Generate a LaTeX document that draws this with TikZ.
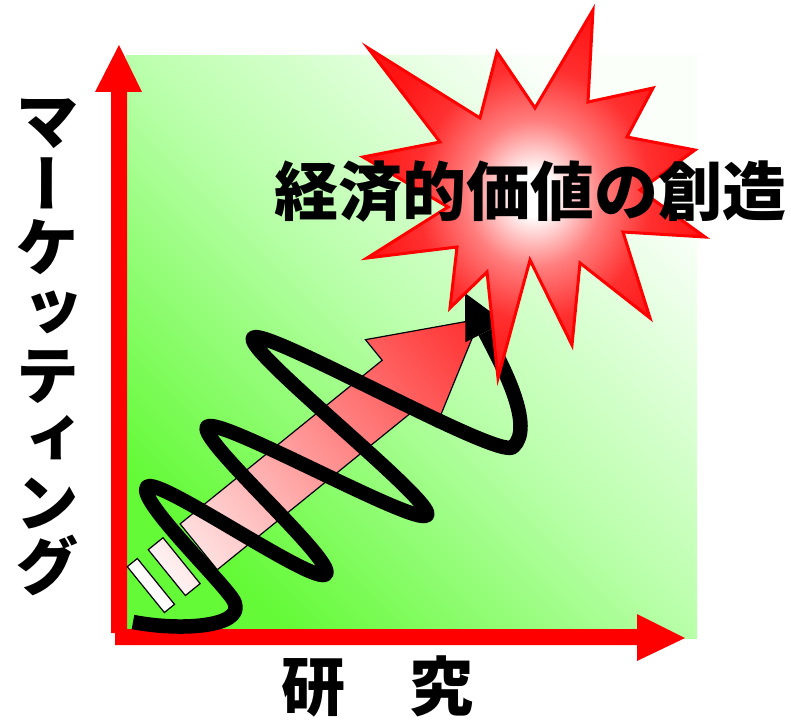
\documentclass[tikz,border=0pt]{standalone}
\usepackage{fontspec}
\usetikzlibrary{arrows.meta}
\newfontfamily\jpfont{Noto Sans CJK JP}
\newfontfamily\jpvfont{Noto Sans CJK JP}[RawFeature=+vert]

\definecolor{axisred}{RGB}{255,0,0}
\definecolor{fieldgreen}{RGB}{100,250,55}
\definecolor{fieldmid}{RGB}{185,255,170}
\definecolor{fieldlight}{RGB}{250,255,250}
\definecolor{shaftred}{RGB}{255,45,45}
\definecolor{burstred}{RGB}{255,20,20}
\colorlet{burstpink}{burstred!55!white}
\colorlet{burstrose}{burstred!88!white}

% radial fill for the explosion: white core fading to red points
\pgfdeclareradialshading{burst}{\pgfpoint{0bp}{0bp}}{%
  color(0bp)=(white); color(3bp)=(white); color(10bp)=(burstpink);
  color(17bp)=(burstrose); color(25bp)=(burstred); color(50bp)=(burstred)}

\begin{document}
\begin{tikzpicture}[x=1pt,y=-1pt,
  jp/.style={inner sep=0pt, text height=56.3pt, text depth=7.7pt,
    font=\jpfont\bfseries\fontsize{64}{64}\selectfont},
  jpv/.style={jp, font=\jpvfont\bfseries\fontsize{64}{64}\selectfont},
  coil/.style={line width=14.5pt, line join=round,
    -{Triangle[length=44pt,width=44pt,line width=0pt]}},
  stripearrow/.style={left color=white, right color=shaftred,
    draw=black, line width=1.2pt, line join=miter},
  burststyle/.style={shading=burst, draw=axisred, line width=3pt, line join=miter},
]
\useasboundingbox (0,0) rectangle (791,719);

% background field
\shade[bottom color=fieldgreen, top color=fieldlight, middle color=fieldmid,
  shading angle=-45] (126,56) rectangle (697,638);

% axes
\fill[axisred] (111,633) -- (111,92) -- (95,92) -- (119,45) -- (142,92)
  -- (127,92) -- (127,633) -- cycle;
\fill[axisred] (115,629) -- (637,629) -- (637,614) -- (685,638) -- (637,661)
  -- (637,645) -- (115,645) -- cycle;

% striped block arrow along the diagonal
\begin{scope}[transform canvas={shift={(480,319)},rotate=39}]
  \shadedraw[stripearrow]
    (0,0) -- (-102,56) -- (-102,29.5) -- (-362,29.5) -- (-362,-29.5)
      -- (-102,-29.5) -- (-102,-56) -- cycle
    (-384,-29.5) rectangle (-403,29.5)
    (-417,-29.5) rectangle (-430,29.5);
\end{scope}

% coiled path
\coordinate (coilend) at (465,293);
\draw[coil] (133,622) .. controls (185,632) and (252,626) .. (232,598)
  .. controls (215,574) and (137,499) .. (147,487)
  .. controls (157,475) and (316,587) .. (326,574)
  .. controls (336,561) and (198,440) .. (207,427)
  .. controls (216,414) and (418,528) .. (427,515)
  .. controls (436,502) and (244,351) .. (253,338)
  .. controls (262,325) and (498,460) .. (513,447)
  .. controls (535,427) and (503,367) .. (489,340)
  -- (coilend);

% explosion
\shade[burststyle]
  (593,10) -- (588,102) -- (653,88) -- (627,137) -- (695,150) -- (640,190)
  -- (705,237) -- (623,232) -- (650,318) -- (580,263) -- (572,345)
  -- (530,260) -- (498,378) -- (487,272) -- (450,308) -- (457,247)
  -- (367,258) -- (448,207) -- (363,157) -- (440,142) -- (368,48)
  -- (480,118) -- (497,52) -- (535,108) -- cycle;

% labels
\node[jp] (title) at (530,191) {経済的価値の創造};
\node[jp] (xlabel) at (377,686) {研　究};
\foreach \ch [count=\i from 0] in {マ,ー,ケ,ッ,テ,ィ,ン,グ}
  \node[jpv] (v\i) at (48,{120+63.7*\i}) {\ch};
\end{tikzpicture}
\end{document}
